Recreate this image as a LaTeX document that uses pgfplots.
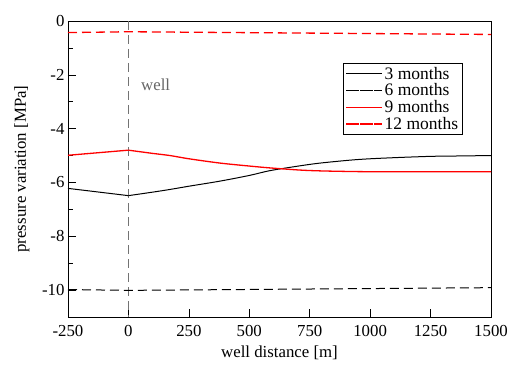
\documentclass[border=0pt]{standalone}
\usepackage{fontspec}
\setmainfont{Liberation Serif}
\newfontfamily\lserif{Liberation Serif}
\newcommand\bigf{\lserif\fontsize{16.8}{18}\selectfont}
\usepackage{pgfplots}
\pgfplotsset{compat=1.18}
\definecolor{pred}{RGB}{255,0,0}
\begin{document}
\begin{tikzpicture}
\begin{axis}[
  name=ax,
  scale only axis,
  width=423pt, height=296pt,
  xmin=-250, xmax=1500, ymin=-11, ymax=0,
  xtick={-250,0,250,500,750,1000,1250,1500},
  ytick={-10,-8,-6,-4,-2,0},
  minor ytick={-11,-9,-7,-5,-3,-1},
  tick pos=left, tick align=inside,
  major tick length=8pt, minor tick length=4.5pt,
  every tick/.style={black, line width=0.6pt},
  axis line style={line width=0.8pt},
  /pgf/number format/assume math mode=true,
  /pgf/number format/set thousands separator={},
  ticklabel style={font=\bigf},
  xticklabel style={yshift=-5pt},
  xlabel={well distance [m]}, ylabel={pressure variation [MPa]},
  label style={font=\bigf},
  xlabel style={at={(axis description cs:0.5,-0.1385)}, anchor=base},
  ylabel style={at={(axis description cs:-0.0993,0.5)}, anchor=base},
  legend cell align=left,
  legend style={at={(rel axis cs:0.650,0.858)}, anchor=north west,
    font=\lserif\fontsize{17.5}{17.5}\selectfont, draw=black, line width=0.8pt,
    inner xsep=2pt, inner ysep=2pt, row sep=0pt, column sep=0pt,
    nodes={inner ysep=0pt, inner xsep=2.5pt, minimum height=16.7pt}},
  legend image code/.code={\path (0pt,0pt) -- (35.5pt,0pt); \draw[#1] (4pt,0pt) -- (28pt,0pt);},
]
\draw[black!55, dash pattern=on 9pt off 5pt, line width=0.8pt] (axis cs:0,0) -- (axis cs:0,-11);
\node[anchor=base west, inner sep=0pt, text=black!60, font=\bigf] at (axis cs:52,-2.58) {well};
\addplot[black, line width=1pt] coordinates {(-250,-6.22) (0,-6.49)};
\addplot[black, line width=1pt, smooth, tension=0.5, forget plot] coordinates {
(0,-6.49) (100,-6.36) (172,-6.26) (250,-6.14) (379,-5.95) (500,-5.74) (586,-5.56) (711,-5.38) (793,-5.28) (918,-5.17) (1000,-5.12) (1124,-5.07) (1250,-5.03) (1331,-5.02) (1500,-5.00)};
\addplot[black, line width=1pt, dash pattern=on 9pt off 5pt] coordinates {
(-250,-9.98) (0,-10.01) (1500,-9.91)};
\addplot[pred, line width=1.3pt] coordinates {(-250,-4.99) (0,-4.80)};
\addplot[pred, line width=1.3pt, smooth, tension=0.5, forget plot] coordinates {
(0,-4.80) (100,-4.92) (172,-5.00) (250,-5.12) (379,-5.28) (500,-5.39) (586,-5.46) (711,-5.54) (793,-5.57) (900,-5.59) (1000,-5.60) (1250,-5.60) (1500,-5.60)};
\addplot[pred, line width=1.3pt, dash pattern=on 9pt off 5pt] coordinates {
(-250,-0.43) (0,-0.40) (1500,-0.50)};
\legend{3 months, 6 months, 9 months, 12 months}
\end{axis}
\pgfresetboundingbox
\path ([xshift=-68pt,yshift=-47pt]ax.south west) rectangle ([xshift=22pt,yshift=21pt]ax.north east);
\end{tikzpicture}
\end{document}
